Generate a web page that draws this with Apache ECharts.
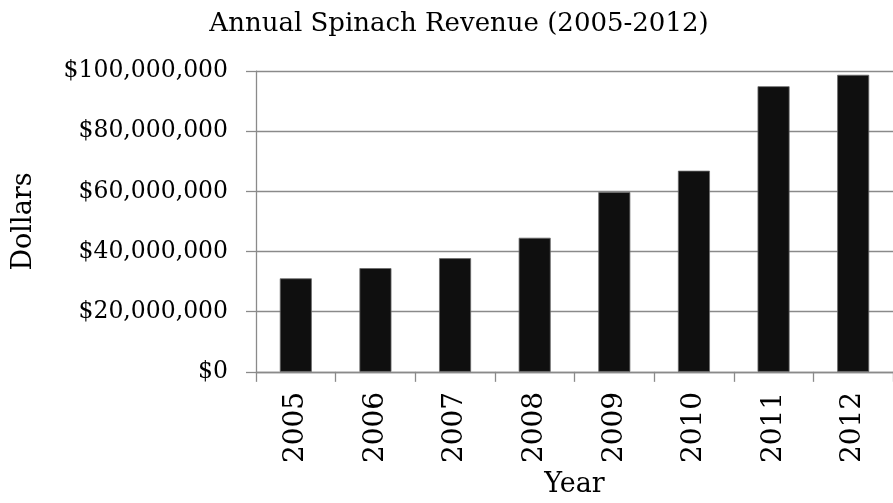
<!DOCTYPE html>
<html>
<head>
<meta charset="utf-8">
<title>Annual Spinach Revenue (2005-2012)</title>
<script src="https://cdn.jsdelivr.net/npm/echarts@6/dist/echarts.min.js"></script>
<style>
  html, body { margin: 0; padding: 0; background: #ffffff; }
  #chart { width: 893px; height: 503px; }
</style>
</head>
<body>
<div id="chart"></div>
<script>
// Yearly revenue in dollars
const years = ['2005', '2006', '2007', '2008', '2009', '2010', '2011', '2012'];
const revenue = [31100000, 34500000, 37800000, 44600000, 59800000, 66900000, 95000000, 98800000];
const yTicks = [0, 20000000, 40000000, 60000000, 80000000, 100000000];

const serif = '"DejaVu Serif", "Liberation Serif", serif';
const gray = '#8a8a8a';

function dollars(v) {
  return '$' + Number(v).toLocaleString('en-US');
}

const chart = echarts.init(document.getElementById('chart'), null, { renderer: 'canvas' });

chart.setOption({
  animation: false,
  backgroundColor: '#ffffff',
  title: {
    text: 'Annual Spinach Revenue (2005-2012)',
    left: 454,
    textAlign: 'center',
    top: 6,
    textStyle: { fontFamily: serif, fontSize: 26, fontWeight: 'normal', color: '#000' }
  },
  grid: { left: 256, top: 71.2, bottom: 130.3, right: -10, containLabel: false },
  xAxis: {
    type: 'category',
    data: years,
    name: 'Year',
    nameLocation: 'middle',
    nameGap: 94,
    nameTextStyle: { fontFamily: serif, fontSize: 27, color: '#000' },
    axisLine: { lineStyle: { color: gray, width: 1.3 } },
    axisTick: { show: true, length: 10, alignWithLabel: false, lineStyle: { color: gray, width: 1.3 } },
    axisLabel: { rotate: 90, margin: 20, fontFamily: serif, fontSize: 28, color: '#000' },
    splitLine: { show: false }
  },
  yAxis: {
    type: 'value',
    min: yTicks[0],
    max: yTicks[yTicks.length - 1],
    interval: yTicks[1] - yTicks[0],
    name: 'Dollars',
    nameLocation: 'middle',
    nameRotate: 90,
    nameGap: 219,
    nameTextStyle: { fontFamily: serif, fontSize: 27, color: '#000' },
    axisLine: { show: true, lineStyle: { color: gray, width: 1.3 } },
    axisTick: { show: true, length: 10, lineStyle: { color: gray, width: 1.3 } },
    axisLabel: { margin: 28, fontFamily: serif, fontSize: 23.5, color: '#000', formatter: dollars },
    splitLine: { show: true, lineStyle: { color: gray, width: 1.3 } }
  },
  series: [{
    type: 'bar',
    data: revenue,
    barWidth: 32,
    itemStyle: { color: '#0f0f0f', borderColor: '#6a6a6a', borderWidth: 0.8 }
  }]
});
</script>
</body>
</html>
